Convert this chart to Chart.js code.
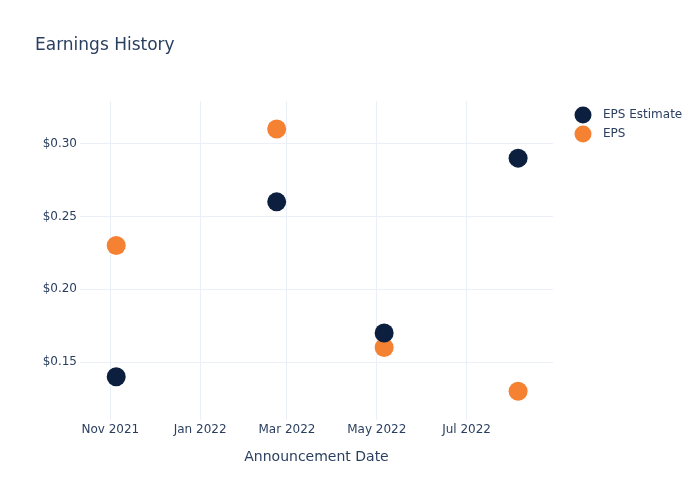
<!DOCTYPE html>
<html lang="en">
<head>
    <meta charset="UTF-8">
    <title>Earnings History</title>
    <script src="https://cdn.jsdelivr.net/npm/chart.js"></script>
    <style>
        body { margin: 0; background: #fff; }
        #wrap { width: 700px; height: 500px; }
    </style>
</head>
<body>
    <div id="wrap"><canvas id="epsChart"></canvas></div>
    <script>
        // announcement dates and values
        const dates = ['2021-11-05', '2022-02-22', '2022-05-06', '2022-08-05'];
        const epsEstimate = [0.14, 0.26, 0.17, 0.29];
        const epsActual = [0.23, 0.31, 0.16, 0.13];

        const xTickDates = ['2021-11-01', '2022-01-01', '2022-03-01', '2022-05-01', '2022-07-01'];
        const xTickLabels = ['Nov 2021', 'Jan 2022', 'Mar 2022', 'May 2022', 'Jul 2022'];
        const yTicks = [0.15, 0.20, 0.25, 0.30];

        const day = 86400000;
        const toMs = s => Date.parse(s + 'T00:00:00Z');
        const textColor = '#2a3f5f';
        const gridColor = '#ebf0f8';
        const font = 'DejaVu Sans';

        const series = [
            { label: 'EPS Estimate', values: epsEstimate, color: '#0c1f3f' },
            { label: 'EPS', values: epsActual, color: '#f58233' }
        ];

        const overlay = {
            id: 'overlay',
            afterDraw(chart) {
                const c = chart.ctx;
                const area = chart.chartArea;
                c.save();
                c.fillStyle = textColor;
                c.textBaseline = 'middle';
                c.font = '17px "' + font + '"';
                c.textAlign = 'left';
                c.fillText('Earnings History', 35, 46);
                c.font = '14px "' + font + '"';
                c.textAlign = 'center';
                c.fillText('Announcement Date', (area.left + area.right) / 2, 457);
                // legend
                c.font = '12px "' + font + '"';
                c.textAlign = 'left';
                series.forEach((s, i) => {
                    const y = 115 + i * 19;
                    c.beginPath();
                    c.arc(583, y, 8.5, 0, Math.PI * 2);
                    c.fillStyle = s.color;
                    c.fill();
                    c.fillStyle = textColor;
                    c.fillText(s.label, 603, y);
                });
                c.restore();
            }
        };

        new Chart(document.getElementById('epsChart'), {
            type: 'scatter',
            data: {
                datasets: series.map(s => ({
                    label: s.label,
                    data: dates.map((d, i) => ({ x: toMs(d), y: s.values[i] })),
                    backgroundColor: s.color,
                    borderColor: s.color,
                    borderWidth: 0,
                    pointRadius: 9.5,
                    pointHoverRadius: 9.5
                }))
            },
            options: {
                responsive: true,
                maintainAspectRatio: false,
                animation: false,
                layout: { padding: { left: 0, top: 101, right: 147, bottom: 0 } },
                plugins: {
                    legend: { display: false },
                    title: { display: false },
                    tooltip: { enabled: false }
                },
                scales: {
                    x: {
                        type: 'linear',
                        min: toMs('2021-11-01') - 20.6 * day,
                        max: toMs('2022-07-01') + 58.7 * day,
                        afterBuildTicks: axis => { axis.ticks = xTickDates.map(d => ({ value: toMs(d) })); },
                        afterFit: axis => { axis.height = 80; },
                        border: { display: false },
                        grid: { color: gridColor, drawTicks: false },
                        ticks: {
                            padding: 3,
                            maxRotation: 0,
                            autoSkip: false,
                            color: textColor,
                            font: { family: font, size: 12 },
                            callback: v => xTickLabels[xTickDates.map(toMs).indexOf(v)]
                        }
                    },
                    y: {
                        min: 0.1103,
                        max: 0.3292,
                        afterBuildTicks: axis => { axis.ticks = yTicks.map(v => ({ value: v })); },
                        afterFit: axis => { axis.width = 80; },
                        border: { display: false },
                        grid: { color: gridColor, drawTicks: false },
                        ticks: {
                            padding: 3,
                            color: textColor,
                            font: { family: font, size: 12 },
                            callback: v => '$' + v.toFixed(2)
                        }
                    }
                }
            },
            plugins: [overlay]
        });
    </script>
</body>
</html>
